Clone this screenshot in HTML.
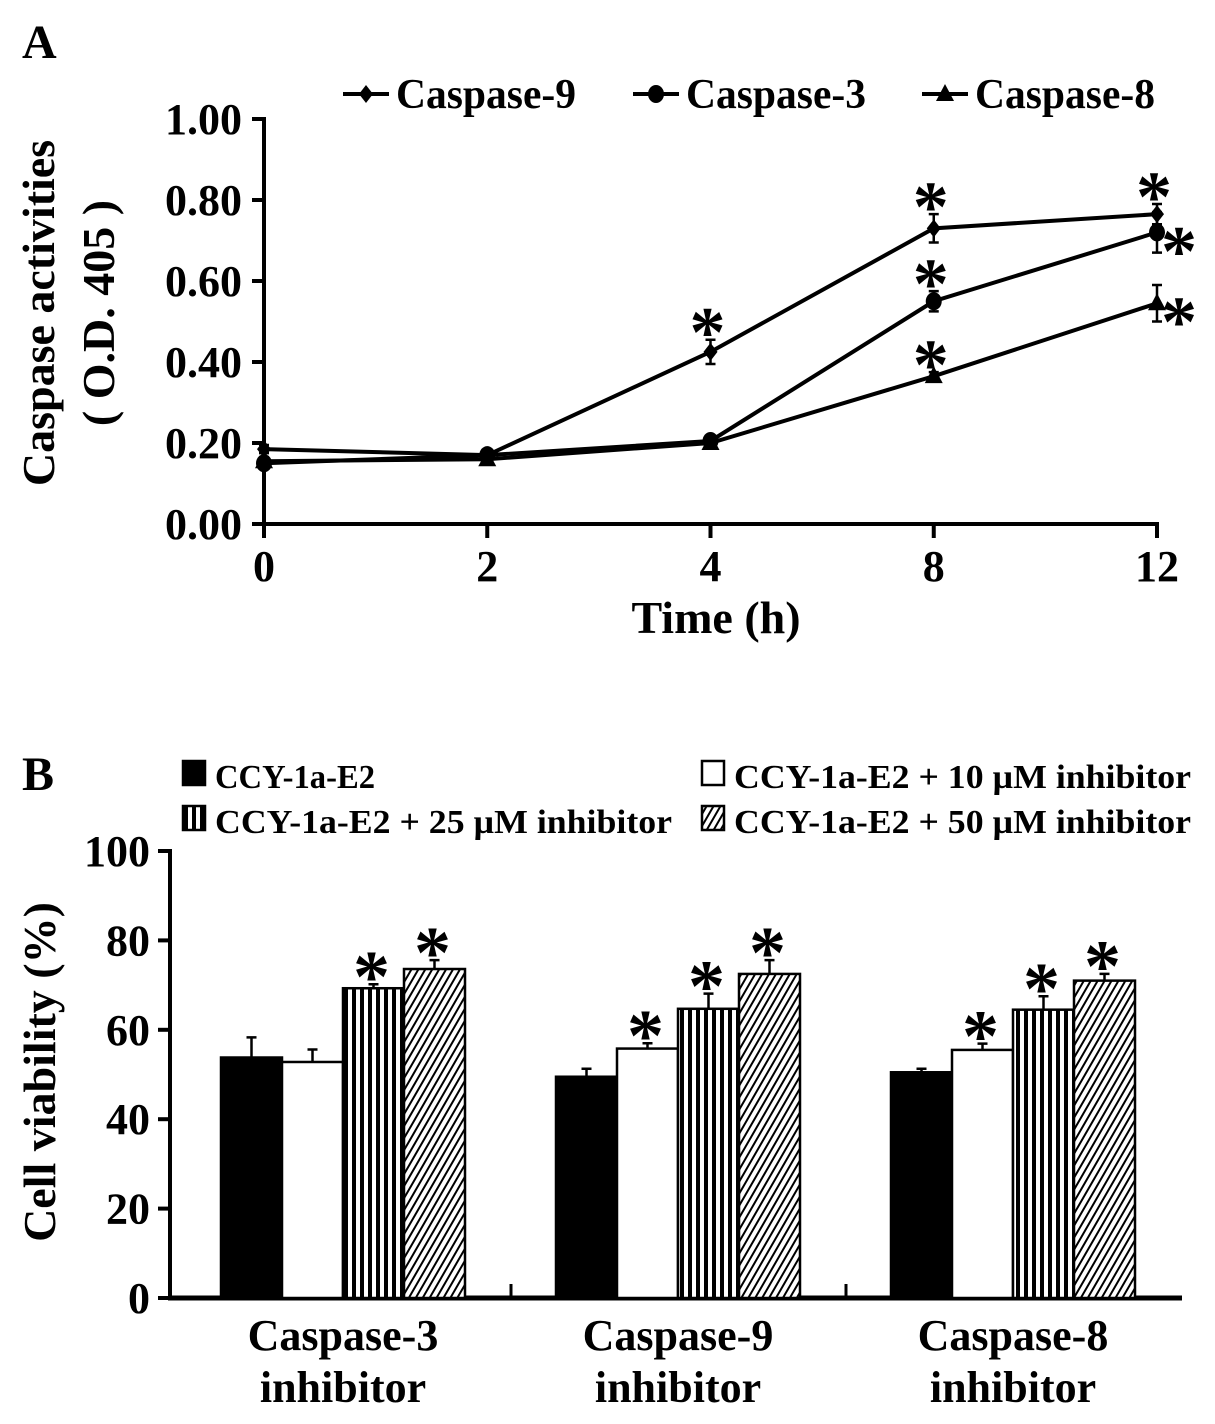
<!DOCTYPE html>
<html><head><meta charset="utf-8"><style>
html,body{margin:0;padding:0;background:#fff}
svg{display:block}
text{font-family:"Liberation Serif",serif;font-weight:bold;fill:#000}
</style></head><body>
<svg id="fig" width="1215" height="1424" viewBox="0 0 1215 1424" xmlns="http://www.w3.org/2000/svg">
<defs>
<pattern id="vstripe" width="8" height="8" patternUnits="userSpaceOnUse"><rect width="8" height="8" fill="#fff"/><rect x="0" width="4" height="8" fill="#000"/></pattern>
<pattern id="hatch" width="6" height="6" patternUnits="userSpaceOnUse" patternTransform="rotate(30)"><rect width="6" height="6" fill="#fff"/><rect x="0" width="2" height="6" fill="#000"/></pattern>
</defs>
<text x="22" y="58" font-size="48">A</text>
<text x="22" y="790" font-size="48">B</text>
<g id="chartA"></g>
<g id="chartB"></g>
</svg>
<script>
// ---- Panel A data ----
const timeLabels = ["0","2","4","8","12"];
const cas9 = [0.185, 0.17, 0.425, 0.73, 0.765];
const cas3 = [0.15, 0.17, 0.205, 0.55, 0.72];
const cas8 = [0.155, 0.16, 0.20, 0.365, 0.545];
const cas9Err = [0.01, 0.01, 0.03, 0.035, 0.025];
const cas3Err = [0.01, 0.01, 0.01, 0.025, 0.05];
const cas8Err = [0.01, 0.01, 0.01, 0.01, 0.045];
const cas9Sig = [false, false, true, true, true];
const cas3Sig = [false, false, false, true, true];
const cas8Sig = [false, false, false, true, true];
const yTicksA = [0, 0.2, 0.4, 0.6, 0.8, 1.0];
const yTickLabelsA = ["0.00","0.20","0.40","0.60","0.80","1.00"];
// ---- Panel B data ----
const groups = ["Caspase-3", "Caspase-9", "Caspase-8"];
const seriesNames = ["CCY-1a-E2","CCY-1a-E2 + 10 \u00b5M inhibitor","CCY-1a-E2 + 25 \u00b5M inhibitor","CCY-1a-E2 + 50 \u00b5M inhibitor"];
const ctrlVals = [53.8, 49.5, 50.5];
const inh10Vals = [52.8, 55.8, 55.5];
const inh25Vals = [69.3, 64.7, 64.5];
const inh50Vals = [73.6, 72.5, 71.0];
const ctrlErr = [4.5, 1.8, 0.8];
const inh10Err = [2.8, 1.2, 1.4];
const inh25Err = [0.9, 3.4, 3.0];
const inh50Err = [2.0, 3.1, 1.5];
const sigB = [[false,false,true,true],[false,true,true,true],[false,true,true,true]];
const yTicksB = [0, 20, 40, 60, 80, 100];

const NS = "http://www.w3.org/2000/svg";
function mk(parent, tag, attrs, txt) {
  const e = document.createElementNS(NS, tag);
  for (const k in attrs) e.setAttribute(k, attrs[k]);
  if (txt !== undefined) e.textContent = txt;
  parent.appendChild(e);
  return e;
}
function star(parent, x, y, size) {
  const t = mk(parent, "text", {x: x, y: y + size * 0.18, "font-size": size, "text-anchor": "middle", "font-family": "Liberation Sans, sans-serif"}, "*");
  
  
  return t;
}

// ===== Panel A =====
(function(){
  const g = document.getElementById("chartA");
  const x0 = 264, x1 = 1157, yBase = 524, yTop = 119;
  const xA = i => x0 + (x1 - x0) * i / (timeLabels.length - 1);
  const yA = v => yBase - (yBase - yTop) * v / 1.0;
  const axY = mk(g, "line", {x1: x0, y1: yTop - 2, x2: x0, y2: yBase + 2, stroke: "#000", "stroke-width": 4});
  
  
  const axX = mk(g, "line", {x1: x0 - 2, y1: yBase, x2: x1 + 2, y2: yBase, stroke: "#000", "stroke-width": 4});
  
  
  yTicksA.forEach((v, i) => {
    const tk = mk(g, "line", {x1: x0 - 12, y1: yA(v), x2: x0, y2: yA(v), stroke: "#000", "stroke-width": 4});
    
    
    const tl = mk(g, "text", {x: x0 - 22, y: yA(v) + 15, "font-size": 44, "text-anchor": "end"}, yTickLabelsA[i]);
    
    
  });
  timeLabels.forEach((l, i) => {
    const tk = mk(g, "line", {x1: xA(i), y1: yBase, x2: xA(i), y2: yBase + 14, stroke: "#000", "stroke-width": 4});
    
    
    const tl = mk(g, "text", {x: xA(i), y: yBase + 57, "font-size": 44, "text-anchor": "middle"}, l);
    
    
  });
  const xt = mk(g, "text", {x: 716, y: 633, "font-size": 46, "text-anchor": "middle"}, "Time (h)");
  
  
  const yt = mk(g, "text", {x: 0, y: 0, "font-size": 46, "text-anchor": "middle", transform: "translate(54,313) rotate(-90)"}, "Caspase activities");
  
  
  const yt2 = mk(g, "text", {x: 0, y: 0, "font-size": 46, "text-anchor": "middle", transform: "translate(114,313) rotate(-90)"}, "( O.D. 405 )");
  
  

  function marker(parent, type, x, y) {
    let m;
    if (type === "diamond") m = mk(parent, "polygon", {points: `${x},${y-9} ${x+7},${y} ${x},${y+9} ${x-7},${y}`, fill: "#000"});
    else if (type === "circle") m = mk(parent, "ellipse", {cx: x, cy: y, rx: 8, ry: 9, fill: "#000"});
    else m = mk(parent, "polygon", {points: `${x},${y-10} ${x+9},${y+7} ${x-9},${y+7}`, fill: "#000"});
    
    
    return m;
  }
  const series = [
    {name: "caspase-9", vals: cas9, err: cas9Err, sig: cas9Sig, mk: "diamond"},
    {name: "caspase-3", vals: cas3, err: cas3Err, sig: cas3Sig, mk: "circle"},
    {name: "caspase-8", vals: cas8, err: cas8Err, sig: cas8Sig, mk: "triangle"}
  ];
  series.forEach(s => {
    const sg = mk(g, "g", {});
    
    
    const pts = s.vals.map((v, i) => `${xA(i)},${yA(v)}`).join(" ");
    const pl = mk(sg, "polyline", {points: pts, fill: "none", stroke: "#000", "stroke-width": 4});
    
    
    s.vals.forEach((v, i) => {
      const x = xA(i), e = s.err[i];
      const eb = mk(sg, "path", {d: `M${x},${yA(v+e)}V${yA(v-e)}M${x-5},${yA(v+e)}H${x+5}M${x-5},${yA(v-e)}H${x+5}`, stroke: "#000", "stroke-width": 2.5, fill: "none"});
      
      
      marker(sg, s.mk, x, yA(v));
    });
  });
  series.forEach(s => {
    s.vals.forEach((v, i) => {
      if (!s.sig[i]) return;
      const x = xA(i);
      if (i === 4 && s.name !== "caspase-9") star(g, x + 22, yA(v) + 30, 72);
      else star(g, x - 3, yA(v + s.err[i]) + 4, 72);
    });
  });
  const lg = mk(g, "g", {});
  
  
  const leg = [["Caspase-9", "diamond", 343], ["Caspase-3", "circle", 633], ["Caspase-8", "triangle", 922]];
  leg.forEach(l => {
    const e = mk(lg, "g", {});
    
    
    mk(e, "line", {x1: l[2], y1: 94, x2: l[2] + 46, y2: 94, stroke: "#000", "stroke-width": 4});
    marker(e, l[1], l[2] + 23, 94);
    mk(e, "text", {x: l[2] + 53, y: 108, "font-size": 42, textLength: 180, lengthAdjust: "spacingAndGlyphs"}, l[0]);
  });
})();

// ===== Panel B =====
(function(){
  const g = document.getElementById("chartB");
  const x0 = 170, x1 = 1182, yBase = 1298, yTop = 851;
  const yB = v => yBase - (yBase - yTop) * v / 100;
  const barW = 61, groupW = 335, firstX = 221;
  const allVals = [ctrlVals, inh10Vals, inh25Vals, inh50Vals];
  const allErr = [ctrlErr, inh10Err, inh25Err, inh50Err];
  const fills = ["#000", "#fff", "url(#vstripe)", "url(#hatch)"];
  const axY = mk(g, "line", {x1: x0, y1: yTop - 2, x2: x0, y2: yBase + 2, stroke: "#000", "stroke-width": 4});
  
  
  const axX = mk(g, "line", {x1: x0 - 2, y1: yBase, x2: x1, y2: yBase, stroke: "#000", "stroke-width": 5});
  
  
  yTicksB.forEach(v => {
    const tk = mk(g, "line", {x1: x0 - 12, y1: yB(v), x2: x0, y2: yB(v), stroke: "#000", "stroke-width": 4});
    
    
    const tl = mk(g, "text", {x: x0 - 20, y: yB(v) + 15, "font-size": 44, "text-anchor": "end"}, String(v));
    
    
  });
  [1, 2].forEach(k => {
    const x = firstX + groupW * k - 45;
    const tk = mk(g, "line", {x1: x, y1: yBase, x2: x, y2: yBase - 14, stroke: "#000", "stroke-width": 3});
    
    
  });
  const yt = mk(g, "text", {x: 0, y: 0, "font-size": 46, "text-anchor": "middle", transform: "translate(55,1072) rotate(-90)"}, "Cell viability (%)");
  
  
  groups.forEach((grp, gi) => {
    const gx = firstX + groupW * gi;
    const gg = mk(g, "g", {});
    
    
    allVals.forEach((vals, si) => {
      const v = vals[gi], e = allErr[si][gi];
      const bx = gx + barW * si;
      const eb = mk(gg, "path", {d: `M${bx+barW/2},${yB(v)}V${yB(v+e)}M${bx+barW/2-5},${yB(v+e)}H${bx+barW/2+5}`, stroke: "#000", "stroke-width": 2.5, fill: "none"});
      
      
      const r = mk(gg, "rect", {x: bx, y: yB(v), width: barW, height: yBase - yB(v), fill: fills[si], stroke: "#000", "stroke-width": 2.5});
      
      
      if (sigB[gi][si]) star(gg, bx + barW/2 - 2, yB(v + e) + 4, 74);
    });
    const cx = gx + barW * 2;
    const l1 = mk(g, "text", {x: cx, y: 1350, "font-size": 44, "text-anchor": "middle"}, grp);
    
    
    const l2 = mk(g, "text", {x: cx, y: 1402, "font-size": 44, "text-anchor": "middle"}, "inhibitor");
    
    
  });
  const lg = mk(g, "g", {});
  
  
  const pos = [[183, 785], [702, 785], [183, 830], [702, 830]];
  const lens = [160, 457, 457, 457];
  seriesNames.forEach((n, i) => {
    const e = mk(lg, "g", {});
    
    
    const [x, y] = pos[i];
    mk(e, "rect", {x: x, y: y - 24, width: 22, height: 24, fill: fills[i], stroke: "#000", "stroke-width": 2.5});
    mk(e, "text", {x: x + 32, y: y + 3, "font-size": 34, textLength: lens[i], lengthAdjust: "spacingAndGlyphs"}, n);
  });
})();
</script>
</body></html>
